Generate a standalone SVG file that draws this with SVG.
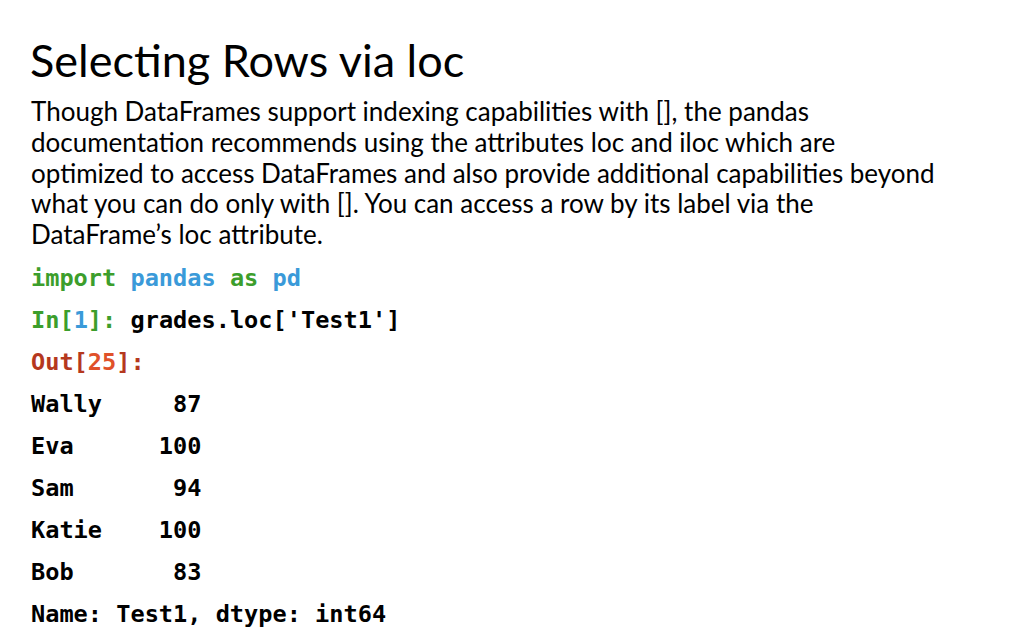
<svg xmlns="http://www.w3.org/2000/svg" width="1024" height="640" viewBox="0 0 1024 640">
<style>
.t{font-family:Lato,"Open Sans",sans-serif;fill:#000}
.b{font-size:26px}
.c{font-family:"DejaVu Sans Mono",monospace;font-weight:bold;font-size:23.6px;fill:#000}
.g{fill:#3c9e2c}.bl{fill:#3a9ad9}.r{fill:#b5381e}.o{fill:#e0512a}
</style>
<rect width="1024" height="640" fill="#fff"/>
<text class="t" x="30" y="77" font-size="45">Selecting Rows via loc</text>
<g class="t b">
<text x="31" y="121">Though DataFrames support indexing capabilities with [], the pandas</text>
<text x="31" y="152">documentation recommends using the attributes loc and iloc which are</text>
<text x="31" y="183">optimized to access DataFrames and also provide additional capabilities beyond</text>
<text x="31" y="213">what you can do only with []. You can access a row by its label via the</text>
<text x="31" y="244">DataFrame’s loc attribute.</text>
</g>
<g class="c">
<text x="31" y="286"><tspan class="g">import</tspan> <tspan class="bl">pandas</tspan> <tspan class="g">as</tspan> <tspan class="bl">pd</tspan></text>
<text x="31" y="328"><tspan class="g">In[</tspan><tspan class="bl">1</tspan><tspan class="g">]:</tspan> grades.loc['Test1']</text>
<text x="31" y="370"><tspan class="r">Out[</tspan><tspan class="o">25</tspan><tspan class="r">]:</tspan></text>
<text x="31" y="412" xml:space="preserve">Wally     87</text>
<text x="31" y="454" xml:space="preserve">Eva      100</text>
<text x="31" y="496" xml:space="preserve">Sam       94</text>
<text x="31" y="538" xml:space="preserve">Katie    100</text>
<text x="31" y="580" xml:space="preserve">Bob       83</text>
<text x="31" y="622">Name: Test1, dtype: int64</text>
</g>
</svg>
